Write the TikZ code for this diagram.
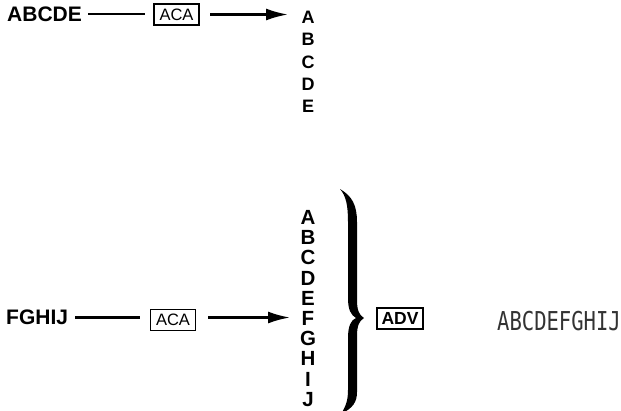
\documentclass[tikz,border=0pt]{standalone}
\usepackage{fontspec}
\setmainfont{Liberation Sans}
\newfontfamily\dispfont{DejaVu Sans Mono}
\usetikzlibrary{arrows.meta}
\begin{document}
\begin{tikzpicture}[x=1pt,y=-1pt,
  biglabel/.style={inner sep=0pt,font=\fontsize{21}{21}\selectfont\bfseries},
  toplet/.style={inner sep=0pt,font=\fontsize{18}{18}\selectfont\bfseries},
  botlet/.style={inner sep=0pt,font=\fontsize{20.5}{20.5}\selectfont\bfseries},
  keybox/.style={draw,line width=1.1pt,inner sep=0pt,minimum width=45pt,minimum height=21pt,font=\fontsize{16.5}{16.5}\selectfont},
  keyboxb/.style={keybox,font=\fontsize{17.5}{17.5}\selectfont\bfseries},
  conn/.style={line width=2.3pt},
  arr/.style={line width=2.3pt,-{Latex[length=22pt,width=12pt]}}
]
\useasboundingbox (0,0) rectangle (621,410);
% top row
\node[biglabel,anchor=west] (t1) at (7,14.5) {ABCDE};
\node[keybox] (aca1) at (176.5,14.5) {ACA};
\coordinate (s1) at (88,14);
\coordinate (m1) at (145,14);
\coordinate (a1) at (210,14.5);
\coordinate (e1) at (288,14.5);
\draw[conn] (s1) -- (m1);
\draw[arr] (a1) -- (e1);
\foreach \l [count=\i from 0] in {A,B,C,D,E}
  \node[toplet] (tc\l) at (308,{17.5+\i*22.3}) {\l};
% bottom row
\node[biglabel,anchor=west] (t2) at (6,317.5) {FGHIJ};
\node[keybox] (aca2) at (173,320) {ACA};
\coordinate (s2) at (75,317.5);
\coordinate (m2) at (140,317.5);
\coordinate (a2) at (208,317.5);
\coordinate (e2) at (290,317.5);
\draw[conn] (s2) -- (m2);
\draw[arr] (a2) -- (e2);
\foreach \l [count=\i from 0] in {A,B,C,D,E,F,G,H,I,J}
  \node[botlet] (bc\l) at (308,{217.5+\i*20.2}) {\l};
% brace
\fill (340,189) .. controls (352,196) and (357,205) .. (357,222) -- (357,300)
  .. controls (357,310) and (359,315) .. (364,318)
  .. controls (359,321) and (357,326) .. (357,336) -- (357,392)
  .. controls (357,402) and (353,408) .. (341,414)
  .. controls (346,406) and (348,400) .. (348,390) -- (348,338)
  .. controls (348,326) and (351,320) .. (356,318)
  .. controls (351,315) and (348,310) .. (348,298) -- (348,222)
  .. controls (348,205) and (346,196) .. (340,189) -- cycle;
\node[keyboxb,minimum width=46pt] (adv) at (400,318.5) {ADV};
\node[inner sep=0pt,anchor=west,text=black!80,font=\dispfont\fontsize{26}{26}\selectfont,xscale=0.79] (disp) at (497,321) {ABCDEFGHIJ};
\end{tikzpicture}
\end{document}
